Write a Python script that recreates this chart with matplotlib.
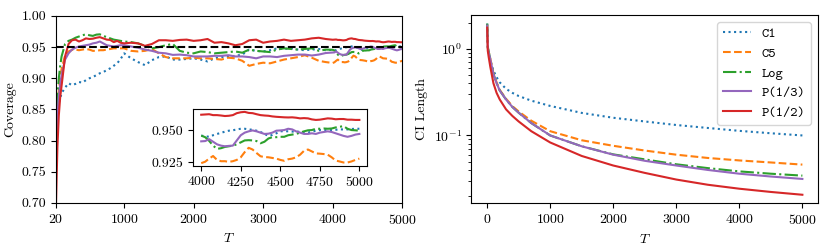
import numpy as np
import matplotlib
matplotlib.use('Agg')
import matplotlib.pyplot as plt
from matplotlib.ticker import FormatStrFormatter

plt.rcParams['font.family'] = 'serif'
plt.rcParams['font.serif'] = ['cmr10']
plt.rcParams['mathtext.fontset'] = 'cm'
plt.rcParams['axes.formatter.use_mathtext'] = True
plt.rcParams['font.size'] = 10

# ---- coverage data (left panel) ----
T_cov = np.concatenate([[20, 40, 60, 80, 100], np.arange(150, 1000, 50),
                        np.arange(1000, 4000, 100), np.arange(4000, 5001, 25)])

cov_c1 = [0.80, 0.845, 0.86, 0.868, 0.876, 0.885, 0.892, 0.889, 0.891, 0.894, 0.893,
          0.897, 0.900, 0.902, 0.905, 0.908, 0.910, 0.913, 0.916, 0.920, 0.924, 0.931,
          0.940, 0.932, 0.926, 0.921, 0.929, 0.934, 0.935, 0.930, 0.930, 0.931, 0.932,
          0.930, 0.927, 0.932, 0.934, 0.935, 0.936, 0.938, 0.946, 0.944, 0.943, 0.945,
          0.948, 0.947, 0.948, 0.946, 0.945, 0.946, 0.947, 0.945,
          0.9457, 0.9452, 0.9448, 0.946, 0.947, 0.9478, 0.9488, 0.9495, 0.9498, 0.9505,
          0.951, 0.951, 0.9505, 0.9502, 0.9495, 0.9485, 0.947, 0.9455, 0.9462, 0.9475,
          0.949, 0.9492, 0.949, 0.9488, 0.949, 0.9485, 0.948, 0.948, 0.9488, 0.9495,
          0.950, 0.950, 0.9498, 0.950, 0.9502, 0.9505, 0.9505, 0.9505, 0.9508, 0.951, 0.951]
cov_c5 = [0.80, 0.85, 0.88, 0.90, 0.915, 0.936, 0.943, 0.9455, 0.946, 0.945, 0.946,
          0.947, 0.946, 0.944, 0.944, 0.945, 0.945, 0.946, 0.947, 0.948, 0.948, 0.948,
          0.948, 0.944, 0.943, 0.944, 0.947, 0.940, 0.934, 0.932, 0.932, 0.932, 0.933,
          0.932, 0.932, 0.931, 0.930, 0.933, 0.932, 0.928, 0.920, 0.923, 0.925, 0.924,
          0.927, 0.930, 0.932, 0.934, 0.937, 0.933, 0.928, 0.926,
          0.9245, 0.9256, 0.928, 0.930, 0.927, 0.926, 0.926, 0.9255, 0.926, 0.927,
          0.929, 0.933, 0.9363, 0.935, 0.9323, 0.9298, 0.9292, 0.929, 0.9285, 0.928,
          0.927, 0.9263, 0.9275, 0.928, 0.929, 0.931, 0.934, 0.935, 0.9335, 0.932,
          0.9318, 0.9315, 0.931, 0.929, 0.9265, 0.9258, 0.925, 0.925, 0.9258, 0.927, 0.928]
cov_log = [0.82, 0.87, 0.90, 0.92, 0.935, 0.955, 0.960, 0.962, 0.965, 0.967, 0.969,
           0.9705, 0.969, 0.968, 0.970, 0.9705, 0.968, 0.966, 0.964, 0.962, 0.961, 0.960,
           0.959, 0.958, 0.956, 0.952, 0.948, 0.950, 0.953, 0.955, 0.944, 0.941, 0.940,
           0.943, 0.942, 0.940, 0.941, 0.942, 0.943, 0.941, 0.946, 0.944, 0.943, 0.942,
           0.946, 0.948, 0.947, 0.946, 0.947, 0.948, 0.944, 0.946,
           0.9457, 0.9445, 0.9417, 0.938, 0.9355, 0.936, 0.937, 0.9375, 0.938, 0.939,
           0.9405, 0.942, 0.9422, 0.942, 0.9415, 0.9398, 0.941, 0.9435, 0.9445, 0.9445,
           0.9448, 0.9448, 0.946, 0.9465, 0.947, 0.948, 0.949, 0.9498, 0.950, 0.951,
           0.951, 0.9512, 0.951, 0.9512, 0.952, 0.9525, 0.953, 0.951, 0.950, 0.9498, 0.9495]
cov_p13 = [0.78, 0.84, 0.87, 0.89, 0.905, 0.93, 0.94, 0.946, 0.949, 0.951, 0.952,
           0.953, 0.954, 0.956, 0.957, 0.959, 0.956, 0.953, 0.952, 0.951, 0.952, 0.953,
           0.953, 0.951, 0.949, 0.946, 0.944, 0.941, 0.940, 0.9375, 0.938, 0.937, 0.935,
           0.935, 0.935, 0.936, 0.936, 0.937, 0.935, 0.935, 0.934, 0.932, 0.935, 0.935,
           0.934, 0.936, 0.937, 0.938, 0.938, 0.9365, 0.938, 0.9405,
           0.9413, 0.9415, 0.943, 0.941, 0.939, 0.938, 0.9375, 0.9378, 0.938, 0.942,
           0.946, 0.948, 0.949, 0.9497, 0.949, 0.948, 0.947, 0.9472, 0.948, 0.9495,
           0.9497, 0.950, 0.951, 0.9505, 0.949, 0.948, 0.947, 0.947, 0.9475, 0.947,
           0.948, 0.9485, 0.949, 0.9485, 0.9475, 0.9465, 0.9455, 0.9448, 0.9455, 0.9465, 0.947]
cov_p12 = [0.70, 0.79, 0.84, 0.87, 0.888, 0.935, 0.955, 0.961, 0.962, 0.959, 0.961,
           0.964, 0.963, 0.9635, 0.965, 0.966, 0.964, 0.962, 0.9615, 0.958, 0.960, 0.957,
           0.956, 0.957, 0.956, 0.952, 0.955, 0.961, 0.961, 0.960, 0.9615, 0.962, 0.960,
           0.961, 0.963, 0.957, 0.958, 0.956, 0.953, 0.955, 0.961, 0.962, 0.957, 0.959,
           0.960, 0.962, 0.960, 0.961, 0.962, 0.964, 0.965, 0.963,
           0.9618, 0.962, 0.9622, 0.9615, 0.9615, 0.9612, 0.9608, 0.961, 0.9615, 0.963,
           0.9637, 0.964, 0.9632, 0.963, 0.9622, 0.9615, 0.9612, 0.961, 0.9605, 0.9602,
           0.960, 0.9598, 0.9597, 0.9598, 0.9595, 0.959, 0.9592, 0.959, 0.9582, 0.9578,
           0.958, 0.9585, 0.959, 0.9588, 0.9583, 0.9585, 0.9585, 0.958, 0.958, 0.9578, 0.9578]

# ---- CI length data (right panel) ----
T_len = [1, 10, 25, 50, 100, 150, 200, 300, 400, 500, 700, 1000,
         1500, 2000, 2500, 3000, 3500, 4000, 4500, 5000]
len_c1 = [1.95, 1.10, 0.88, 0.71, 0.56, 0.47, 0.41, 0.345, 0.31, 0.285, 0.252, 0.219,
          0.182, 0.160, 0.145, 0.132, 0.122, 0.113, 0.106, 0.100]
len_c5 = [1.90, 1.05, 0.92, 0.77, 0.52, 0.41, 0.335, 0.265, 0.218, 0.189, 0.148, 0.112,
          0.088, 0.076, 0.067, 0.060, 0.055, 0.0515, 0.0488, 0.0461]
len_log = [1.95, 1.05, 0.92, 0.76, 0.51, 0.40, 0.33, 0.26, 0.213, 0.183, 0.139, 0.100,
           0.075, 0.0605, 0.053, 0.0465, 0.042, 0.0385, 0.0362, 0.0344]
len_p13 = [1.85, 1.02, 0.90, 0.76, 0.51, 0.40, 0.33, 0.26, 0.213, 0.183, 0.139, 0.100,
           0.075, 0.060, 0.051, 0.045, 0.040, 0.0362, 0.0336, 0.0315]
len_p12 = [1.75, 0.95, 0.80, 0.62, 0.40, 0.31, 0.26, 0.20, 0.168, 0.145, 0.112, 0.083,
           0.058, 0.045, 0.037, 0.031, 0.027, 0.0243, 0.0223, 0.0207]

labels = ['C1', 'C5', 'Log', 'P(1/3)', 'P(1/2)']
colors = ['#1f77b4', '#ff7f0e', '#2ca02c', '#9467bd', '#d62728']
styles = [':', '--', '-.', '-', '-']
coverage = [cov_c1, cov_c5, cov_log, cov_p13, cov_p12]
lengths = [len_c1, len_c5, len_log, len_p13, len_p12]

fig = plt.figure(figsize=(8.3, 2.49), dpi=100)
ax1 = fig.add_axes([0.0675, 0.185, 0.417, 0.751])
ax2 = fig.add_axes([0.568, 0.1835, 0.4177, 0.756])
axin = fig.add_axes([0.2329, 0.3345, 0.2096, 0.2265])

for y, c, s, l in zip(coverage, colors, styles, labels):
    ax1.plot(T_cov, y, color=c, ls=s, lw=1.5, label=l)
ax1.axhline(0.95, color='k', ls='--', lw=1.5, zorder=5)
ax1.set_xlim(20, 5000)
ax1.set_ylim(0.70, 1.00)
ax1.set_xticks([20, 1000, 2000, 3000, 4000, 5000])
ax1.set_yticks([0.70, 0.75, 0.80, 0.85, 0.90, 0.95, 1.00])
ax1.yaxis.set_major_formatter(FormatStrFormatter('%.2f'))
ax1.set_xlabel(r'$T$')
ax1.set_ylabel('Coverage')

m = T_cov >= 4000
for y, c, s in zip(coverage, colors, styles):
    axin.plot(T_cov[m], np.array(y)[m], color=c, ls=s, lw=1.5)
axin.set_xticks([4000, 4250, 4500, 4750, 5000])
axin.set_yticks([0.925, 0.950])
axin.yaxis.set_major_formatter(FormatStrFormatter('%.3f'))

for y, c, s, l in zip(lengths, colors, styles, labels):
    ax2.plot(T_len, y, color=c, ls=s, lw=1.5, label=l)
ax2.set_yscale('log')
ax2.set_xlabel(r'$T$')
ax2.set_ylabel('CI Length')
ax2.legend(loc='upper right', prop={'family': 'cmtt10', 'size': 10})

fig.savefig('out.png', dpi=100)
